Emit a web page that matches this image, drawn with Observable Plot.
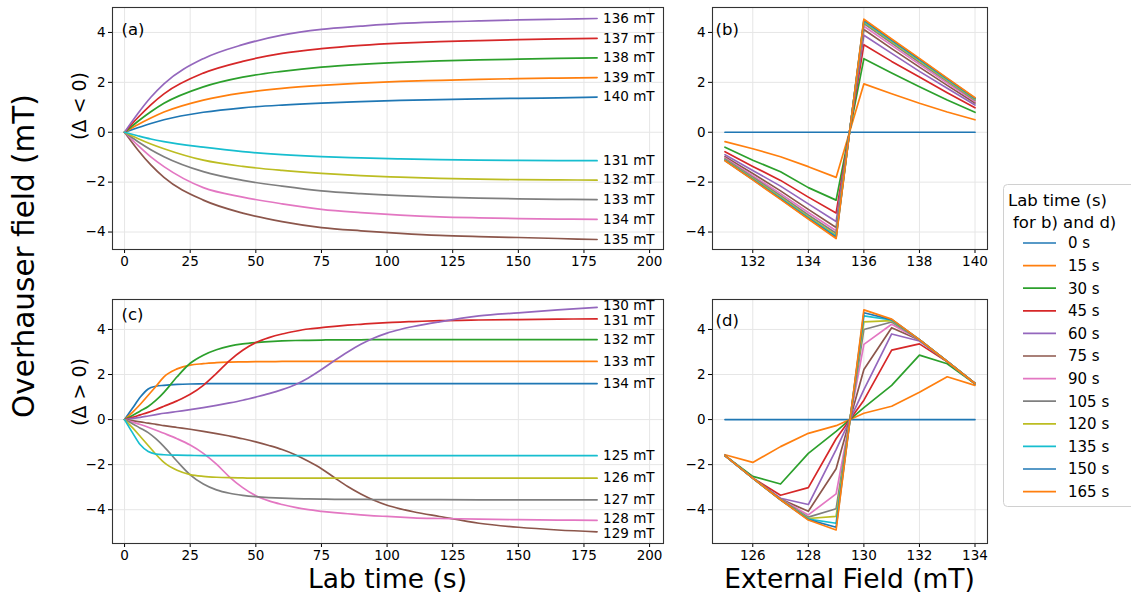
<!DOCTYPE html>
<html><head><meta charset="utf-8">
<script src="https://cdn.jsdelivr.net/npm/d3@7"></script>
<script src="https://cdn.jsdelivr.net/npm/@observablehq/plot@0.6"></script>
<style>
body{margin:0;background:#fff;}
#fig{position:relative;width:1131px;height:597px;overflow:hidden;background:#fff;font-family:"DejaVu Sans",sans-serif;}
#fig > svg, #fig > figure{position:absolute;margin:0;}
</style></head>
<body><div id="fig"></div>
<script>
// ---------- data ----------
const tab10 = ["#1f77b4","#ff7f0e","#2ca02c","#d62728","#9467bd","#8c564b","#e377c2","#7f7f7f","#bcbd22","#17becf"];

// Panel (a): Delta < 0, lab time (s)
const timesA = [0,5,10,15,30,45,60,75,90,105,120,135,150,165,180];
const a140 = [0, 0.18, 0.35, 0.50, 0.80, 0.98, 1.09, 1.17, 1.23, 1.28, 1.31, 1.34, 1.36, 1.38, 1.41];
const a139 = [0, 0.30, 0.57, 0.81, 1.29, 1.58, 1.76, 1.88, 1.97, 2.04, 2.08, 2.12, 2.15, 2.17, 2.19];
const a138 = [0, 0.43, 0.82, 1.16, 1.82, 2.21, 2.44, 2.61, 2.72, 2.80, 2.86, 2.90, 2.93, 2.96, 2.98];
const a137 = [0, 0.58, 1.10, 1.54, 2.37, 2.84, 3.16, 3.35, 3.48, 3.57, 3.63, 3.67, 3.71, 3.74, 3.76];
const a136 = [0, 0.74, 1.40, 1.94, 2.95, 3.51, 3.89, 4.12, 4.25, 4.36, 4.42, 4.46, 4.50, 4.53, 4.56];
const a135 = [0, -0.70, -1.31, -1.81, -2.72, -3.24, -3.58, -3.82, -3.95, -4.05, -4.13, -4.18, -4.22, -4.26, -4.30];
const a134 = [0, -0.52, -0.99, -1.38, -2.22, -2.60, -2.87, -3.09, -3.22, -3.32, -3.39, -3.43, -3.46, -3.48, -3.49];
const a133 = [0, -0.37, -0.70, -0.98, -1.58, -1.93, -2.16, -2.35, -2.46, -2.54, -2.60, -2.64, -2.67, -2.69, -2.70];
const a132 = [0, -0.25, -0.47, -0.66, -1.12, -1.37, -1.53, -1.65, -1.74, -1.80, -1.85, -1.88, -1.90, -1.91, -1.92];
const a131 = [0, -0.14, -0.27, -0.375, -0.60, -0.78, -0.90, -0.98, -1.03, -1.07, -1.10, -1.12, -1.13, -1.14, -1.14];
const fieldsA = [140,139,138,137,136,135,134,133,132,131];
const seriesA = [a140,a139,a138,a137,a136,a135,a134,a133,a132,a131];

// Panel (c): Delta > 0, lab time (s)
const timesC = [0,3,6,9,12,15,20,25,30,35,40,45,50,55,60,65,70,75,80,85,90,95,100,105,110,120,135,150,165,180];
const c134 = [0,0.50,1.00,1.36,1.48,1.52,1.56,1.58,1.59,1.60,1.60,1.60,1.60,1.60,1.60,1.60,1.60,1.60,1.60,1.60,1.60,1.60,1.60,1.60,1.60,1.60,1.60,1.60,1.60,1.60];
const c133 = [0,0.32,0.68,1.08,1.48,1.90,2.25,2.42,2.48,2.53,2.55,2.56,2.57,2.57,2.58,2.58,2.58,2.58,2.58,2.58,2.58,2.58,2.58,2.58,2.58,2.58,2.58,2.58,2.58,2.58];
const c132 = [0,0.18,0.38,0.58,0.86,1.21,1.90,2.50,2.86,3.10,3.26,3.36,3.42,3.46,3.49,3.51,3.52,3.53,3.54,3.54,3.54,3.55,3.55,3.55,3.55,3.55,3.55,3.55,3.55,3.55];
const c131 = [0,0.10,0.21,0.32,0.45,0.59,0.83,1.12,1.52,2.05,2.62,3.08,3.42,3.64,3.80,3.92,4.02,4.08,4.14,4.19,4.23,4.27,4.30,4.33,4.35,4.39,4.42,4.44,4.46,4.47];
const c130 = [0,0.05,0.10,0.16,0.22,0.28,0.36,0.44,0.53,0.63,0.74,0.86,1.00,1.15,1.33,1.55,1.85,2.22,2.62,3.00,3.34,3.62,3.84,4.00,4.13,4.34,4.60,4.74,4.87,4.98];
const c129 = [0,-0.05,-0.10,-0.16,-0.21,-0.27,-0.35,-0.43,-0.52,-0.62,-0.73,-0.85,-0.99,-1.15,-1.33,-1.56,-1.85,-2.18,-2.58,-2.97,-3.30,-3.58,-3.80,-3.96,-4.09,-4.30,-4.60,-4.78,-4.90,-4.98];
const c128 = [0,-0.11,-0.22,-0.34,-0.47,-0.61,-0.85,-1.13,-1.50,-1.98,-2.55,-3.02,-3.38,-3.61,-3.77,-3.90,-4.00,-4.07,-4.13,-4.18,-4.23,-4.27,-4.30,-4.33,-4.36,-4.39,-4.42,-4.44,-4.46,-4.47];
const c127 = [0,-0.18,-0.38,-0.58,-0.86,-1.20,-1.85,-2.45,-2.86,-3.12,-3.27,-3.36,-3.42,-3.46,-3.49,-3.51,-3.52,-3.53,-3.54,-3.54,-3.54,-3.55,-3.55,-3.55,-3.55,-3.55,-3.56,-3.56,-3.56,-3.56];
const c126 = [0,-0.36,-0.75,-1.15,-1.55,-1.90,-2.25,-2.44,-2.52,-2.56,-2.58,-2.59,-2.60,-2.60,-2.60,-2.60,-2.60,-2.60,-2.60,-2.60,-2.60,-2.60,-2.60,-2.60,-2.60,-2.60,-2.60,-2.60,-2.60,-2.60];
const c125 = [0,-0.58,-1.12,-1.42,-1.53,-1.56,-1.58,-1.59,-1.60,-1.60,-1.60,-1.60,-1.60,-1.60,-1.60,-1.60,-1.60,-1.60,-1.60,-1.60,-1.60,-1.60,-1.60,-1.60,-1.60,-1.60,-1.60,-1.60,-1.60,-1.60];
const fieldsC = [134,133,132,131,130,129,128,127,126,125];
const seriesC = [c134,c133,c132,c131,c130,c129,c128,c127,c126,c125];

// Panels (b), (d): snapshots at these lab times
const snapTimes = [0,15,30,45,60,75,90,105,120,135,150,165];

// tick values
const ticksTime = [0,25,50,75,100,125,150,175,200];
const ticksB = [132,134,136,138,140];
const ticksD = [126,128,130,132,134];
const ticksY = [-4,-2,0,2,4];

// ---------- helpers ----------
const fmt = d => d < 0 ? "\u2212" + Math.abs(d) : String(d);
const FONT = "DejaVu Sans";
const LW = 1.7;

function timeRows(fields, series, times) {
  return fields.map((f, i) => ({f, color: tab10[i % 10],
    rows: times.map((t, j) => ({t, v: series[i][j]}))}));
}
function snapRows(fields, series, times) {
  const asc = fields.map((f, i) => ({f, s: series[i]})).sort((a, b) => a.f - b.f);
  return snapTimes.map((st, k) => {
    const j = times.indexOf(st);
    return {st, color: tab10[k % 10], rows: asc.map(o => ({f: o.f, v: o.s[j]}))};
  });
}

function makePlot({xDomain, yDomain, xTicks, width, height, ml, mr, mt, mb, marks}) {
  return Plot.plot({
    width, height, marginLeft: ml, marginRight: mr, marginTop: mt, marginBottom: mb,
    style: {fontFamily: FONT, fontSize: "13.5px", color: "#000", background: "transparent", overflow: "visible"},
    x: {domain: xDomain, ticks: xTicks, tickSize: 4, tickPadding: 3, tickFormat: fmt, label: null},
    y: {domain: yDomain, ticks: ticksY, tickSize: 4, tickPadding: 3, tickFormat: fmt, label: null},
    marks: [
      Plot.ruleX(xTicks, {stroke: "#e6e6e6", strokeWidth: 1}),
      Plot.ruleY(ticksY, {stroke: "#e6e6e6", strokeWidth: 1}),
      ...marks,
      Plot.frame({stroke: "#333", strokeWidth: 1.1})
    ]
  });
}

function place(el, left, top) {
  el.style.position = "absolute";
  el.style.left = left + "px";
  el.style.top = top + "px";
  document.getElementById("fig").appendChild(el);
}

// small vertical nudges for crowded end labels (pixels)
const nudge = {130: -1.5, 131: 1.5, 128: -1.5, 129: 1.5};

// ---------- panel (a) ----------
const linesA = timeRows(fieldsA, seriesA, timesA);
const endA = linesA.map(s => ({f: s.f, v: s.rows[s.rows.length - 1].v, t: s.rows[s.rows.length - 1].t}));
const pa = makePlot({
  xDomain: [-4.6, 205.3], yDomain: [-4.7, 5.0], xTicks: ticksTime,
  width: 700, height: 280, ml: 112, mr: 37, mt: 7, mb: 31,
  marks: [
    ...linesA.map(s => Plot.line(s.rows, {x: "t", y: "v", stroke: s.color, strokeWidth: LW, curve: "monotone-x"})),
    Plot.text(endA, {x: "t", y: "v", text: d => d.f + " mT", dx: 6, textAnchor: "start", lineAnchor: "middle", fontSize: 13.5, fill: "#000"}),
    Plot.text(["(a)"], {frameAnchor: "top-left", dx: 9, dy: 22, textAnchor: "start", lineAnchor: "middle", fontSize: 16.5, fill: "#000"})
  ]
});
place(pa, 0, 0);

// ---------- panel (b) ----------
const linesB = snapRows(fieldsA, seriesA, timesA);
const pb = makePlot({
  xDomain: [130.55, 140.45], yDomain: [-4.7, 5.0], xTicks: ticksB,
  width: 340, height: 280, ml: 52, mr: 13, mt: 7, mb: 31,
  marks: [
    ...linesB.map(s => Plot.line(s.rows, {x: "f", y: "v", stroke: s.color, strokeWidth: LW})),
    Plot.text(["(b)"], {frameAnchor: "top-left", dx: 3, dy: 22.5, textAnchor: "start", lineAnchor: "middle", fontSize: 16.5, fill: "#000"})
  ]
});
place(pb, 660, 0);

// ---------- panel (c) ----------
const linesC = timeRows(fieldsC, seriesC, timesC);
const endC = linesC.map(s => ({f: s.f, v: s.rows[s.rows.length - 1].v, t: s.rows[s.rows.length - 1].t}));
const pc = makePlot({
  xDomain: [-4.6, 205.3], yDomain: [-5.5, 5.33], xTicks: ticksTime,
  width: 700, height: 284, ml: 112, mr: 37, mt: 9, mb: 31,
  marks: [
    ...linesC.map(s => Plot.line(s.rows, {x: "t", y: "v", stroke: s.color, strokeWidth: LW, curve: "monotone-x"})),
    ...endC.map(d => Plot.text([d], {x: "t", y: "v", text: e => e.f + " mT", dx: 6, dy: nudge[d.f] || 0, textAnchor: "start", lineAnchor: "middle", fontSize: 13.5, fill: "#000"})),
    Plot.text(["(c)"], {frameAnchor: "top-left", dx: 9, dy: 15, textAnchor: "start", lineAnchor: "middle", fontSize: 16.5, fill: "#000"})
  ]
});
place(pc, 0, 290);

// ---------- panel (d) ----------
const linesD = snapRows(fieldsC, seriesC, timesC);
const pd = makePlot({
  xDomain: [124.55, 134.45], yDomain: [-5.5, 5.33], xTicks: ticksD,
  width: 340, height: 284, ml: 52, mr: 13, mt: 9, mb: 31,
  marks: [
    ...linesD.map(s => Plot.line(s.rows, {x: "f", y: "v", stroke: s.color, strokeWidth: LW})),
    Plot.text(["(d)"], {frameAnchor: "top-left", dx: 3, dy: 21, textAnchor: "start", lineAnchor: "middle", fontSize: 16.5, fill: "#000"})
  ]
});
place(pd, 660, 290);

// ---------- overlay: axis titles and legend ----------
const ov = d3.create("svg").attr("width", 1131).attr("height", 597)
  .style("position", "absolute").style("left", "0px").style("top", "0px")
  .style("font-family", FONT).style("overflow", "visible");

ov.append("text").attr("transform", "translate(34,256) rotate(-90)")
  .attr("text-anchor", "middle").attr("font-size", 29.5).text("Overhauser field (mT)");
ov.append("text").attr("transform", "translate(86,106) rotate(-90)")
  .attr("text-anchor", "middle").attr("font-size", 19).text("(\u0394 < 0)");
ov.append("text").attr("transform", "translate(86,392) rotate(-90)")
  .attr("text-anchor", "middle").attr("font-size", 19).text("(\u0394 > 0)");
ov.append("text").attr("x", 387.5).attr("y", 588).attr("text-anchor", "middle")
  .attr("font-size", 26.5).text("Lab time (s)");
ov.append("text").attr("x", 849.5).attr("y", 588).attr("text-anchor", "middle")
  .attr("font-size", 26.5).text("External Field (mT)");

// legend
const lg = ov.append("g");
lg.append("rect").attr("x", 1003.5).attr("y", 184.5).attr("width", 140).attr("height", 322)
  .attr("rx", 4).attr("fill", "#fff").attr("stroke", "#d0d0d0").attr("stroke-width", 1);
lg.append("text").attr("x", 1008).attr("y", 206).attr("font-size", 16.5).text("Lab time (s)");
lg.append("text").attr("x", 1013).attr("y", 228).attr("font-size", 16.5).text("for b) and d)");
snapTimes.forEach((t, k) => {
  const yc = 243 + k * 22.6;
  lg.append("line").attr("x1", 1023).attr("x2", 1056).attr("y1", yc).attr("y2", yc)
    .attr("stroke", tab10[k % 10]).attr("stroke-width", LW);
  lg.append("text").attr("x", 1068).attr("y", yc).attr("dy", "0.36em")
    .attr("font-size", 15).text(t + " s");
});
document.getElementById("fig").appendChild(ov.node());
</script>
</body></html>
